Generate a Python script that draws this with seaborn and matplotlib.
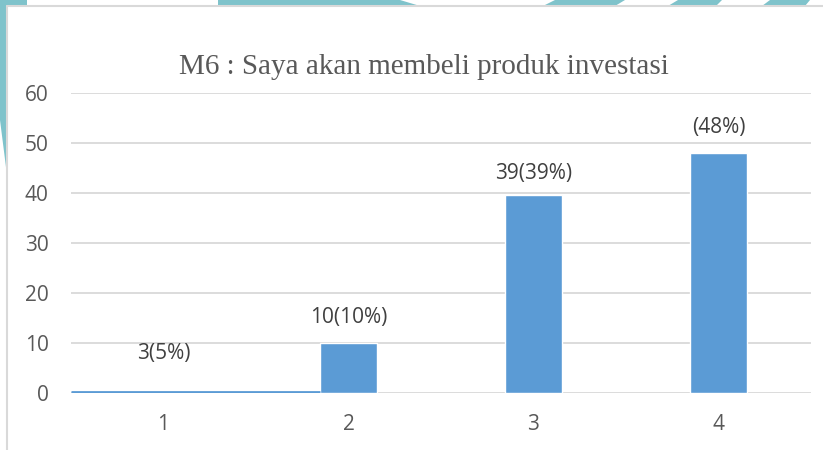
import numpy as np
import pandas as pd
import matplotlib
matplotlib.use('Agg')
import matplotlib.pyplot as plt
import seaborn as sns
from matplotlib.patches import Polygon
from matplotlib.lines import Line2D

# data
kategori = ['1', '2', '3', '4']
tinggi_bar = [0.3, 10, 39.7, 48]      # bar heights as drawn (bar 1 appears flat)
nilai = [3, 10, 39, 48]               # values used for the label positions
label = ['3(5%)', '10(10%)', '39(39%)', '(48%)']
yticks = [0, 10, 20, 30, 40, 50, 60]

df = pd.DataFrame({'kategori': kategori, 'tinggi': tinggi_bar})

sns.set_style('white')
plt.rcParams['font.family'] = ['Open Sans', 'DejaVu Sans']

W, H = 823, 450
fig = plt.figure(figsize=(W / 100, H / 100), dpi=100)

# background decoration (teal shapes at the top and left edge)
teal = '#7fc3cb'
def px(pts):
    return [(x / W, 1 - y / H) for x, y in pts]
for pts in [
    [(0, 0), (27, 0), (27, 6), (0, 6)],
    [(218, 0), (400, 0), (420, 6), (218, 6)],
    [(555, 0), (625, 0), (615, 6), (543, 6)],
    [(678, 0), (722, 0), (716, 6), (668, 6)],
    [(770, 0), (810, 0), (805, 6), (762, 6)],
    [(0, 6), (7, 6), (7, 175), (0, 120)],
]:
    fig.patches.append(Polygon(px(pts), closed=True, transform=fig.transFigure,
                               facecolor=teal, edgecolor='none', zorder=0))
# chart border (partly cropped)
fig.lines.append(Line2D([7 / W, 1], [1 - 6 / H, 1 - 6 / H], transform=fig.transFigure,
                        color='#d9d9d9', lw=1.5))
fig.lines.append(Line2D([7 / W, 7 / W], [1 - 6 / H, 0], transform=fig.transFigure,
                        color='#d9d9d9', lw=1.5))

ax = fig.add_axes([71 / W, 1 - 393 / H, (811 - 71) / W, (393 - 93) / H])
sns.barplot(data=df, x='kategori', y='tinggi', color='#5b9bd5', saturation=1,
            width=0.31, ax=ax, zorder=3)

# the flat first bar is drawn as a line along the baseline
ax.plot([-0.5, 1 - 0.155], [0.15, 0.15], color='#5b9bd5', lw=2, zorder=4,
        solid_capstyle='butt')

ax.set_ylim(0, 60)
ax.set_xlim(-0.5, 3.5)
ax.set_yticks(yticks)
ax.yaxis.grid(True, color='#d9d9d9', lw=1.3)
ax.set_axisbelow(True)
for s in ax.spines.values():
    s.set_visible(False)
ax.set_xlabel('')
ax.set_ylabel('')
ax.tick_params(axis='both', length=0, labelsize=15, colors='#595959')
ax.tick_params(axis='y', pad=16)
ax.tick_params(axis='x', pad=15)

for i, (v, t) in enumerate(zip(nilai, label)):
    ax.annotate(t, (i, v), xytext=(0, 25), textcoords='offset pixels',
                ha='center', va='center', fontsize=15, color='#404040')

fig.text(424 / W, 1 - 67 / H, 'M6 : Saya akan membeli produk investasi',
         ha='center', va='center', fontsize=21, color='#595959',
         family='Liberation Serif')

fig.savefig('out.png', dpi=100)
